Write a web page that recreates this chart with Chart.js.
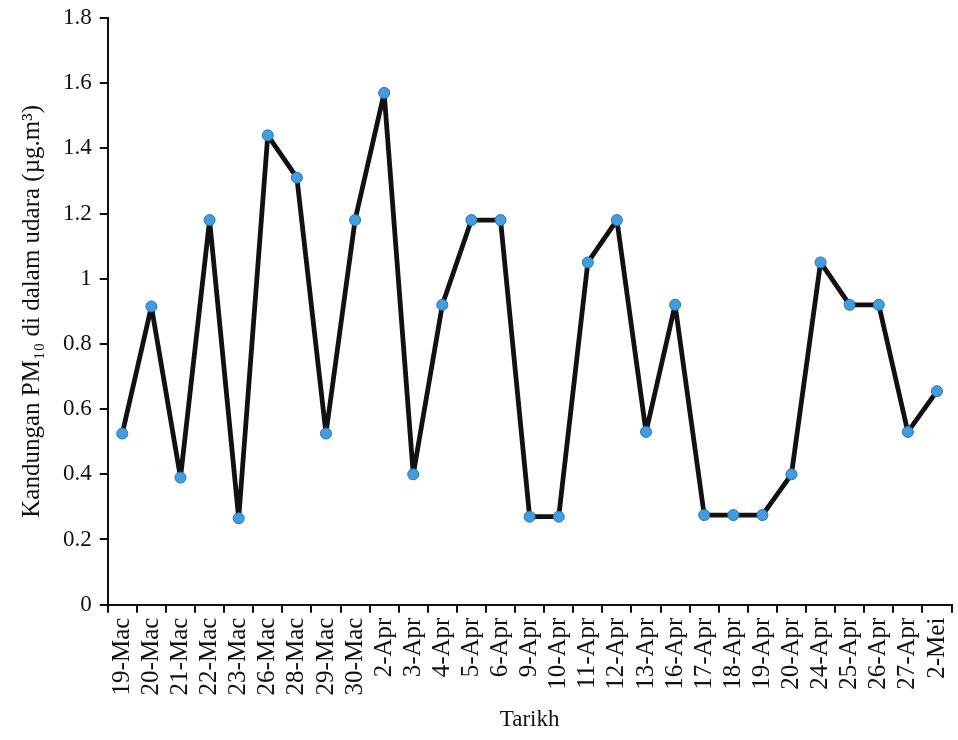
<!DOCTYPE html>
<html>
<head>
<meta charset="utf-8">
<script src="https://cdn.jsdelivr.net/npm/chart.js@4/dist/chart.umd.min.js"></script>
<style>
  html, body { margin: 0; padding: 0; background: #fff; }
  #wrap { width: 958px; height: 740px; }
</style>
</head>
<body>
<div id="wrap"><canvas id="ctx"></canvas></div>
<script>
const tarikh = ['19-Mac', '20-Mac', '21-Mac', '22-Mac', '23-Mac', '26-Mac', '28-Mac', '29-Mac', '30-Mac',
    '2-Apr', '3-Apr', '4-Apr', '5-Apr', '6-Apr', '9-Apr', '10-Apr', '11-Apr', '12-Apr', '13-Apr',
    '16-Apr', '17-Apr', '18-Apr', '19-Apr', '20-Apr', '24-Apr', '25-Apr', '26-Apr', '27-Apr', '2-Mei'];

const pm10 = [0.525, 0.915, 0.39, 1.18, 0.265, 1.44, 1.31, 0.525, 1.18,
    1.57, 0.40, 0.92, 1.18, 1.18, 0.27, 0.27, 1.05, 1.18, 0.53,
    0.92, 0.275, 0.275, 0.275, 0.40, 1.05, 0.92, 0.92, 0.53, 0.655];

const yTicks = [0, 0.2, 0.4, 0.6, 0.8, 1, 1.2, 1.4, 1.6, 1.8];

const serif = 'Liberation Serif';

const config = {
    type: 'line',
    data: {
        labels: tarikh,
        datasets: [{
            label: 'PM10',
            data: pm10,
            borderColor: '#111',
            borderWidth: 4.8,
            borderJoinStyle: 'round',
            pointRadius: 5.5,
            pointBackgroundColor: '#3d9ee6',
            pointBorderColor: '#2b72b3',
            pointBorderWidth: 1,
            tension: 0,
        }]
    },
    options: {
        responsive: true,
        maintainAspectRatio: false,
        animation: false,
        layout: { padding: { top: 18, right: 1, left: 13, bottom: 6 } },
        plugins: {
            legend: { display: false },
            tooltip: { enabled: false },
        },
        scales: {
            x: {
                offset: true,
                afterFit: function(scale) {
                    // no extra room for the rotated end labels
                    scale.paddingLeft = 0;
                    scale.paddingRight = 0;
                },
                grid: {
                    offset: true,
                    drawOnChartArea: false,
                    drawTicks: true,
                    tickLength: 8,
                    color: '#111',
                    lineWidth: 2,
                },
                border: { color: '#111', width: 2 },
                ticks: {
                    color: '#111',
                    font: { family: serif, size: 25 },
                    maxRotation: 90,
                    minRotation: 90,
                    autoSkip: false,
                    padding: 5,
                },
                title: {
                    display: true,
                    text: 'Tarikh',
                    color: '#111',
                    font: { family: serif, size: 23 },
                    padding: { top: 6, bottom: 0 },
                }
            },
            y: {
                min: 0,
                max: 1.8,
                afterBuildTicks: function(axis) {
                    axis.ticks = yTicks.map(v => ({ value: v }));
                },
                afterFit: function(scale) {
                    scale.paddingTop = 0;
                    scale.paddingBottom = 0;
                },
                grid: {
                    drawOnChartArea: false,
                    drawTicks: true,
                    tickLength: 8,
                    color: '#111',
                    lineWidth: 2,
                },
                border: { color: '#111', width: 2 },
                ticks: {
                    color: '#111',
                    font: { family: serif, size: 23 },
                    padding: 8,
                    callback: function(value) {
                        return String(Math.round(value * 10) / 10);
                    }
                },
                title: {
                    display: true,
                    text: 'Kandungan PM₁₀ di dalam udara (µg.m³)',
                    color: '#111',
                    font: { family: serif, size: 25 },
                    padding: { bottom: 8 },
                }
            }
        }
    }
};

const graphChart = new Chart(document.getElementById('ctx').getContext('2d'), config);
</script>
</body>
</html>
